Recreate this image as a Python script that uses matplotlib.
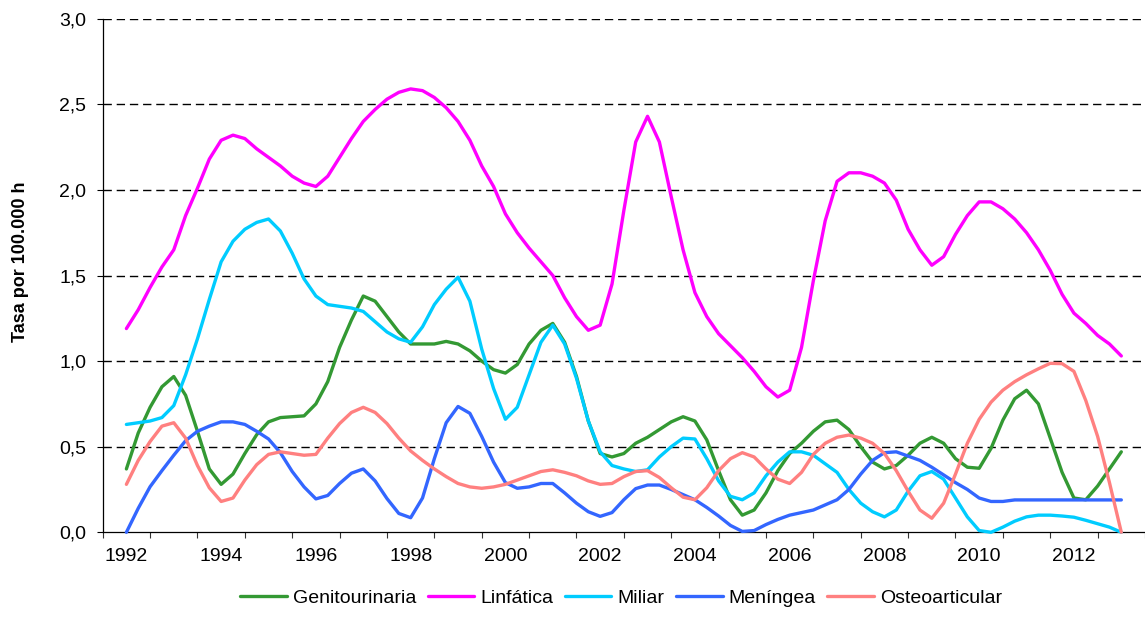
import numpy as np
import matplotlib
matplotlib.use("Agg")
from matplotlib import pyplot as plt
from matplotlib.ticker import FixedLocator, FuncFormatter

plt.rcParams['font.family'] = ['Liberation Sans', 'DejaVu Sans']

# quarterly readings, one row per year, 1992 .. 2013
genitourinaria = [0.37, 0.58, 0.73, 0.85,
                  0.91, 0.80, 0.59, 0.37,
                  0.28, 0.34, 0.46, 0.57,
                  0.645, 0.67, 0.675, 0.68,
                  0.75, 0.88, 1.08, 1.24,
                  1.38, 1.35, 1.26, 1.17,
                  1.10, 1.10, 1.10, 1.115,
                  1.10, 1.06, 1.00, 0.95,
                  0.93, 0.98, 1.10, 1.18,
                  1.22, 1.11, 0.91, 0.65,
                  0.46, 0.44, 0.46, 0.52,
                  0.555, 0.60, 0.645, 0.675,
                  0.65, 0.54, 0.36, 0.19,
                  0.10, 0.13, 0.23, 0.36,
                  0.46, 0.52, 0.59, 0.645,
                  0.655, 0.60, 0.50, 0.41,
                  0.37, 0.39, 0.45, 0.52,
                  0.555, 0.52, 0.43, 0.38,
                  0.374, 0.49, 0.655, 0.78,
                  0.83, 0.75, 0.55, 0.35,
                  0.20, 0.19, 0.27, 0.37,
                  0.47]
linfatica = [1.19, 1.30, 1.43, 1.55,
             1.65, 1.85, 2.01, 2.18,
             2.29, 2.32, 2.30, 2.24,
             2.19, 2.14, 2.08, 2.04,
             2.02, 2.08, 2.19, 2.30,
             2.40, 2.47, 2.53, 2.57,
             2.59, 2.58, 2.54, 2.48,
             2.40, 2.29, 2.14, 2.02,
             1.86, 1.75, 1.66, 1.58,
             1.50, 1.37, 1.26, 1.18,
             1.21, 1.45, 1.88, 2.28,
             2.43, 2.28, 1.96, 1.65,
             1.40, 1.26, 1.16, 1.09,
             1.02, 0.94, 0.85, 0.79,
             0.83, 1.08, 1.47, 1.82,
             2.05, 2.10, 2.10, 2.08,
             2.04, 1.94, 1.77, 1.65,
             1.56, 1.61, 1.74, 1.85,
             1.93, 1.93, 1.89, 1.83,
             1.75, 1.65, 1.53, 1.39,
             1.28, 1.22, 1.15, 1.10,
             1.03]
miliar = [0.63, 0.64, 0.65, 0.67,
          0.74, 0.92, 1.13, 1.36,
          1.58, 1.70, 1.77, 1.81,
          1.83, 1.76, 1.63, 1.48,
          1.38, 1.33, 1.32, 1.31,
          1.29, 1.23, 1.17, 1.13,
          1.11, 1.20, 1.33, 1.42,
          1.49, 1.35, 1.07, 0.84,
          0.66, 0.73, 0.92, 1.11,
          1.21, 1.10, 0.90, 0.65,
          0.47, 0.39, 0.37, 0.355,
          0.365, 0.44, 0.50, 0.55,
          0.545, 0.43, 0.30, 0.21,
          0.19, 0.23, 0.33, 0.41,
          0.47, 0.47, 0.45, 0.40,
          0.35, 0.25, 0.17, 0.12,
          0.09, 0.13, 0.24, 0.33,
          0.355, 0.31, 0.20, 0.09,
          0.01, 0.0, 0.03, 0.065,
          0.09, 0.10, 0.10, 0.095,
          0.088, 0.07, 0.05, 0.03,
          0.0]
meningea = [0.0, 0.14, 0.266, 0.36,
            0.45, 0.535, 0.59, 0.62,
            0.645, 0.645, 0.63, 0.59,
            0.545, 0.465, 0.355, 0.265,
            0.195, 0.215, 0.285, 0.345,
            0.37, 0.30, 0.197, 0.11,
            0.085, 0.20, 0.43, 0.64,
            0.735, 0.695, 0.56, 0.41,
            0.29, 0.257, 0.265, 0.285,
            0.285, 0.23, 0.17, 0.12,
            0.093, 0.115, 0.19, 0.255,
            0.276, 0.276, 0.25, 0.22,
            0.19, 0.145, 0.095, 0.04,
            0.005, 0.01, 0.045, 0.075,
            0.10, 0.115, 0.13, 0.16,
            0.19, 0.25, 0.34, 0.42,
            0.465, 0.47, 0.445, 0.42,
            0.38, 0.335, 0.29, 0.25,
            0.20, 0.18, 0.18, 0.189,
            0.189, 0.189, 0.189, 0.189,
            0.189, 0.189, 0.189, 0.189,
            0.189]
osteoarticular = [0.28, 0.42, 0.53, 0.62,
                  0.64, 0.55, 0.39, 0.26,
                  0.18, 0.20, 0.305, 0.395,
                  0.455, 0.47, 0.46, 0.45,
                  0.455, 0.55, 0.635, 0.70,
                  0.73, 0.70, 0.635, 0.55,
                  0.475, 0.42, 0.37, 0.325,
                  0.285, 0.265, 0.257, 0.265,
                  0.28, 0.305, 0.33, 0.355,
                  0.365, 0.35, 0.33, 0.30,
                  0.28, 0.285, 0.325, 0.355,
                  0.36, 0.32, 0.26, 0.205,
                  0.19, 0.26, 0.36, 0.43,
                  0.465, 0.44, 0.37, 0.31,
                  0.285, 0.35, 0.455, 0.52,
                  0.555, 0.568, 0.55, 0.52,
                  0.46, 0.36, 0.24, 0.13,
                  0.082, 0.17, 0.34, 0.52,
                  0.66, 0.76, 0.83, 0.88,
                  0.92, 0.955, 0.987, 0.985,
                  0.94, 0.77, 0.56, 0.29,
                  0.0]

series_names = ["Genitourinaria", "Linfática", "Miliar", "Meníngea", "Osteoarticular"]
series_colors = ["#339933", "#FF00FF", "#00CCFF", "#3366FF", "#FF8080"]
year_labels = [1992, 1994, 1996, 1998, 2000, 2002, 2004, 2006, 2008, 2010, 2012]
first_year, last_year = 1992, 2013

x = first_year + np.arange(len(linfatica)) / 4.0

fig = plt.figure(figsize=(11.45, 6.37), dpi=100)
ax = fig.add_axes([0.0897, 0.1644, 0.9103, 0.8062])

for vals, name, col in zip([genitourinaria, linfatica, miliar, meningea, osteoarticular],
                           series_names, series_colors):
	ax.plot(x, vals, color=col, lw=2.4, label=name,
	        solid_joinstyle='round', solid_capstyle='round', clip_on=False, zorder=3)

ax.set_xlim(first_year - 0.5, last_year + 0.5)
ax.set_ylim(0, 3.0)

# category axis: tick marks between years, labels every two years
ax.xaxis.set_major_locator(FixedLocator(np.arange(first_year - 0.5, last_year + 1.0, 1.0)))
ax.xaxis.set_major_formatter(FuncFormatter(lambda v, p: ""))
ax.xaxis.set_minor_locator(FixedLocator(year_labels))
ax.xaxis.set_minor_formatter(FuncFormatter(lambda v, p: "%d" % round(v)))
ax.tick_params(axis='x', which='major', direction='out', length=4.5, width=0.8, color='#333333')
ax.tick_params(axis='x', which='minor', length=0, pad=11, labelsize=14)

ax.set_yticks(np.arange(0, 3.01, 0.5))
ax.yaxis.set_major_formatter(FuncFormatter(lambda v, p: ("%.1f" % v).replace(".", ",")))
ax.tick_params(axis='y', direction='out', length=4, width=0.8, pad=8, labelsize=14)

for v in np.arange(0.5, 3.01, 0.5):
	ax.axhline(v, color='black', lw=1.0, ls=(0, (6, 3.5)), zorder=1)

for s in ['top', 'right']:
	ax.spines[s].set_visible(False)
for s in ['left', 'bottom']:
	ax.spines[s].set_linewidth(0.9)

fig.text(21 / 1145, 1 - 261.5 / 637, "Tasa por 100.000 h", rotation=90,
         ha='center', va='center', fontsize=13, fontweight='bold')

fig.legend(loc='center', bbox_to_anchor=(0.5424, 0.061), ncol=5, frameon=False,
           fontsize=14, handlelength=2.4, handletextpad=0.3, columnspacing=0.6)

fig.savefig("out.png", dpi=100)
